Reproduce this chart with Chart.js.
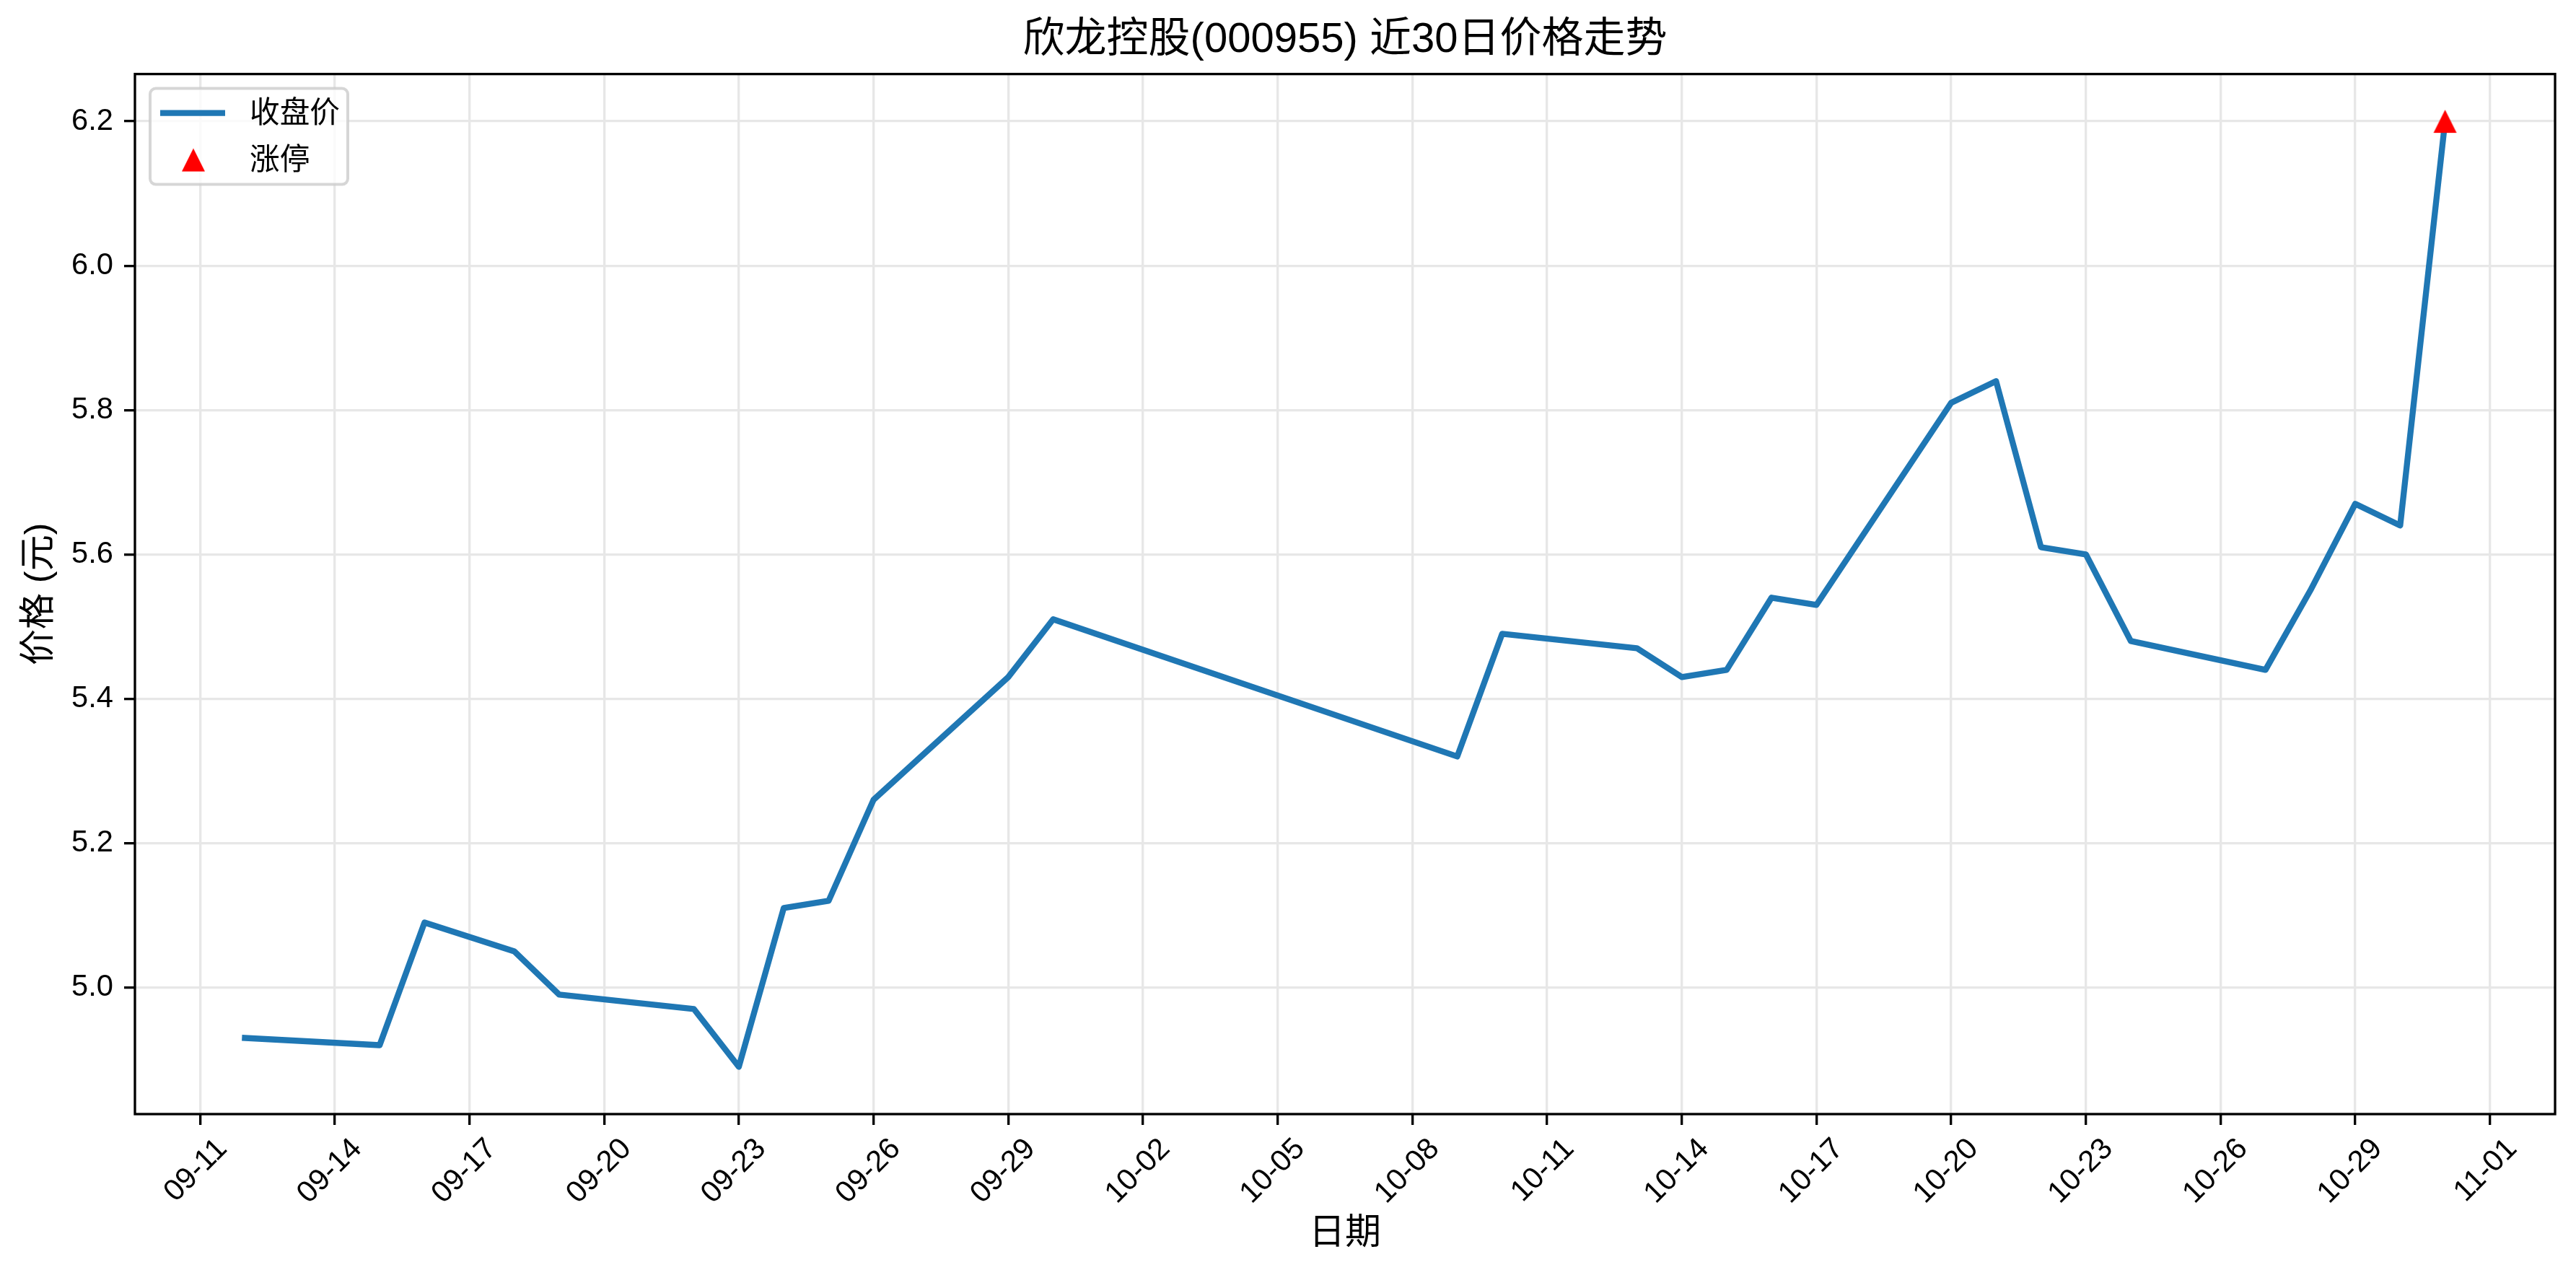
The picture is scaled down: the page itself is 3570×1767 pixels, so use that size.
<!DOCTYPE html>
<html><head><meta charset="utf-8">
<script src="https://cdn.jsdelivr.net/npm/chart.js@4.4.1/dist/chart.umd.min.js"></script>
<style>html,body{margin:0;padding:0;background:#fff;overflow:hidden}</style>
</head><body>
<canvas id="c" width="3570" height="1767" style="width:3570px;height:1767px;display:block"></canvas>
<script>
// ---- data ----
const titleText = '欣龙控股(000955) 近30日价格走势';
const xAxisTitle = '日期';
const yAxisTitle = '价格 (元)';
const seriesCloseLabel = '收盘价';
const seriesLimitLabel = '涨停';
const dates = ['2025-09-12','2025-09-15','2025-09-16','2025-09-17','2025-09-18','2025-09-19',
  '2025-09-22','2025-09-23','2025-09-24','2025-09-25','2025-09-26','2025-09-29','2025-09-30',
  '2025-10-09','2025-10-10','2025-10-13','2025-10-14','2025-10-15','2025-10-16','2025-10-17',
  '2025-10-20','2025-10-21','2025-10-22','2025-10-23','2025-10-24','2025-10-27','2025-10-28',
  '2025-10-29','2025-10-30','2025-10-31'];
const closePrices = [4.93,4.92,5.09,5.07,5.05,4.99,
  4.97,4.89,5.11,5.12,5.26,5.43,5.51,
  5.32,5.49,5.47,5.43,5.44,5.54,5.53,
  5.81,5.84,5.61,5.60,5.48,5.44,5.55,
  5.67,5.64,6.20];
const limitUpDates = ['2025-10-31'];
const limitUpPrices = [6.20];
const tickYear = 2025;
const xTickLabels = ['09-11','09-14','09-17','09-20','09-23','09-26','09-29','10-02','10-05',
  '10-08','10-11','10-14','10-17','10-20','10-23','10-26','10-29','11-01'];
const yTickValues = [5.0,5.2,5.4,5.6,5.8,6.0,6.2];

// ---- helpers ----
function dayNum(s){ const p = s.split('-').map(Number); return Date.UTC(p[0], p[1]-1, p[2]) / 86400000; }
const xTickValues = xTickLabels.map(l => dayNum(tickYear + '-' + l));
const closePts = dates.map((d,i) => ({x: dayNum(d), y: closePrices[i]}));
const limitPts = limitUpDates.map((d,i) => ({x: dayNum(d), y: limitUpPrices[i]}));
const xs = closePts.map(p => p.x), ys = closePrices.concat(limitUpPrices);
const xMinD = Math.min(...xs), xMaxD = Math.max(...xs);
const yMinD = Math.min(...ys), yMaxD = Math.max(...ys);
const xm = (xMaxD - xMinD) * 0.05, ym = (yMaxD - yMinD) * 0.05;

const FONT = '"Liberation Sans", "Noto Sans CJK SC", Arial, sans-serif';
const BLUE = '#1f77b4';
const GRID = 'rgb(231,231,231)';
const LW = 300/72*0.8;
const LINE_W = 300/72*2;

function makeTriangle(size, color){
  const c = document.createElement('canvas');
  c.width = size + 2; c.height = size + 2;
  const g = c.getContext('2d');
  g.fillStyle = color;
  g.beginPath();
  g.moveTo((size+2)/2, 1); g.lineTo(size+1, size+1); g.lineTo(1, size+1);
  g.closePath(); g.fill();
  return c;
}
const triImg = makeTriangle(32, '#ff0000');

const spinePlugin = {
  id: 'spines',
  afterDatasetsDraw(chart){
    const a = chart.chartArea, ctx = chart.ctx;
    ctx.save();
    ctx.strokeStyle = '#000'; ctx.lineWidth = LW; ctx.lineJoin = 'miter';
    ctx.strokeRect(a.left, a.top, a.right - a.left, a.bottom - a.top);
    ctx.restore();
  }
};

const legendPlugin = {
  id: 'mplLegend',
  afterDraw(chart){
    const a = chart.chartArea, ctx = chart.ctx;
    const x0 = a.left + 21, y0 = a.top + 20, w = 274, h = 133;
    ctx.save();
    ctx.beginPath();
    ctx.roundRect(x0, y0, w, h, 8);
    ctx.fillStyle = 'rgba(255,255,255,0.8)'; ctx.fill();
    ctx.lineWidth = 4; ctx.strokeStyle = 'rgba(204,204,204,0.8)'; ctx.stroke();
    const ds = chart.data.datasets;
    const r1 = y0 + 34, r2 = y0 + 99;
    ctx.beginPath();
    ctx.moveTo(x0 + 14, r1); ctx.lineTo(x0 + 104, r1);
    ctx.strokeStyle = BLUE; ctx.lineWidth = LINE_W; ctx.lineCap = 'butt'; ctx.stroke();
    ctx.drawImage(triImg, x0 + 60 - triImg.width/2, r2 - triImg.height/2);
    ctx.fillStyle = '#000';
    ctx.font = '41.7px ' + FONT;
    ctx.textAlign = 'left'; ctx.textBaseline = 'middle';
    ctx.fillText(ds[1].label, x0 + 138, r1 + 2);
    ctx.fillText(ds[0].label, x0 + 138, r2 + 2);
    ctx.restore();
  }
};

Chart.defaults.color = '#000';
Chart.defaults.font.family = FONT;

new Chart(document.getElementById('c'), {
  type: 'line',
  data: {
    datasets: [
      { label: seriesLimitLabel, data: limitPts, showLine: false, pointStyle: triImg,
        pointRadius: 16, pointHoverRadius: 16, order: 0, borderColor: 'red', backgroundColor: 'red' },
      { label: seriesCloseLabel, data: closePts, borderColor: BLUE, backgroundColor: BLUE,
        borderWidth: LINE_W, pointRadius: 0, pointHoverRadius: 0, tension: 0,
        borderJoinStyle: 'round', borderCapStyle: 'square', order: 1 }
    ]
  },
  options: {
    responsive: false, animation: false, devicePixelRatio: 1,
    layout: { padding: { left: 0, right: 29, top: 0, bottom: 0 } },
    plugins: {
      legend: { display: false },
      tooltip: { enabled: false },
      title: { display: true, text: titleText, fullSize: false, color: '#000',
        font: { size: 58, weight: 'normal', family: FONT }, padding: { top: 21, bottom: 12 } }
    },
    scales: {
      x: {
        type: 'linear', min: xMinD - xm, max: xMaxD + xm,
        afterBuildTicks: s => { s.ticks = xTickValues.map(v => ({ value: v })); },
        afterFit: s => { s.height = 223; },
        ticks: { autoSkip: false, minRotation: 45, maxRotation: 45, labelOffset: 31, padding: 9,
          color: '#000', font: { size: 41.7, family: FONT },
          callback: (v) => { const i = xTickValues.indexOf(v); return i >= 0 ? xTickLabels[i] : ''; } },
        grid: { color: GRID, lineWidth: LW, tickLength: 15, tickColor: '#000', tickWidth: LW, drawOnChartArea: true },
        border: { display: false },
        title: { display: true, text: xAxisTitle, color: '#000', font: { size: 50, family: FONT },
          padding: { top: 0, bottom: 27 } }
      },
      y: {
        type: 'linear', min: yMinD - ym, max: yMaxD + ym,
        afterBuildTicks: s => { s.ticks = yTickValues.map(v => ({ value: v })); },
        afterFit: s => { s.width = 187; },
        ticks: { padding: 15, color: '#000', font: { size: 41.7, family: FONT },
          callback: v => Number(v).toFixed(1) },
        grid: { color: GRID, lineWidth: LW, tickLength: 15, tickColor: '#000', tickWidth: LW },
        border: { display: false },
        title: { display: true, text: yAxisTitle, color: '#000', font: { size: 50, family: FONT },
          padding: { top: 25, bottom: 0 } }
      }
    }
  },
  plugins: [spinePlugin, legendPlugin]
});
</script>
</body></html>
